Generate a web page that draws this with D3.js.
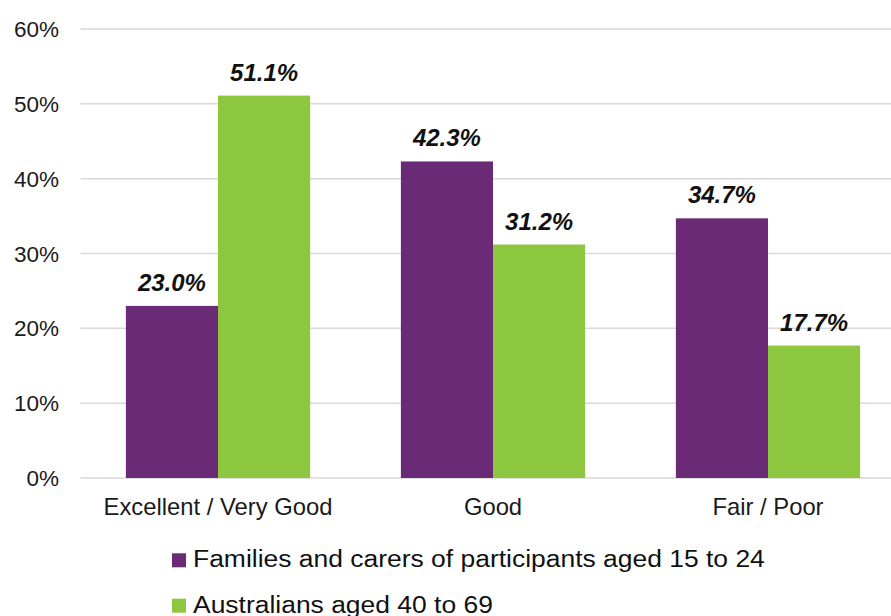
<!DOCTYPE html>
<html><head><meta charset="utf-8">
<script src="https://cdn.jsdelivr.net/npm/d3@7"></script>
<style>body{margin:0;background:#fff}svg{display:block}text{font-family:Arial,"Liberation Sans",sans-serif}</style>
</head><body><svg id="c" width="891" height="616"></svg>
<script>
const categories = ["Excellent / Very Good", "Good", "Fair / Poor"];
const seriesNames = ["Families and carers of participants aged 15 to 24", "Australians aged 40 to 69"];
const families = [23.0, 42.3, 34.7];
const australians = [51.1, 31.2, 17.7];
const yTicks = [0, 10, 20, 30, 40, 50, 60];
const colors = ["#6B2A76", "#8DC63F"];

const svg = d3.select("#c");
const plotL = 80.5, plotR = 905.5, plotT = 29, plotB = 478;
const x = d3.scaleBand().domain(categories).range([plotL, plotR]).paddingInner(0.33).paddingOuter(0.165);
const x1 = d3.scaleBand().domain([0,1]).range([0, x.bandwidth()]);
const y = d3.scaleLinear().domain([0, 60]).range([plotB, plotT]);

svg.append("g").selectAll("line").data(yTicks).join("line")
  .attr("x1", plotL).attr("x2", 891).attr("y1", d => y(d)).attr("y2", d => y(d))
  .attr("stroke", "#d9d9d9").attr("stroke-width", 1.5);

svg.append("g").selectAll("text").data(yTicks).join("text")
  .attr("x", 59).attr("y", d => y(d)).attr("dy", "0.36em").attr("text-anchor", "end")
  .attr("font-size", 22.5).attr("fill", "#1a1a1a").text(d => d + "%");

const series = [families, australians];
series.forEach((vals, si) => {
  const g = svg.append("g");
  g.selectAll("rect").data(vals).join("rect")
    .attr("x", (d, i) => x(categories[i]) + x1(si)).attr("width", x1.bandwidth())
    .attr("y", d => y(d)).attr("height", d => plotB - y(d)).attr("fill", colors[si]);
  g.selectAll("text").data(vals).join("text")
    .attr("x", (d, i) => x(categories[i]) + x1(si) + x1.bandwidth() / 2)
    .attr("y", d => y(d) - 15).attr("text-anchor", "middle")
    .attr("font-size", 24).attr("font-weight", "bold").attr("font-style", "italic").attr("fill", "#111")
    .text(d => d.toFixed(1) + "%");
});

svg.append("g").selectAll("text").data(categories).join("text")
  .attr("x", d => x(d) + x.bandwidth() / 2).attr("y", 515)
  .attr("text-anchor", "middle").attr("font-size", 23.8).attr("fill", "#1a1a1a").text(d => d);

const leg = svg.append("g").selectAll("g").data(seriesNames).join("g")
  .attr("transform", (d, i) => `translate(172,${567.3 + i * 45.4})`);
leg.append("rect").attr("x", 0).attr("y", -14).attr("width", 14).attr("height", 14).attr("fill", (d, i) => colors[i]);
leg.append("text").attr("transform", "translate(21,0) scale(1.08,1)").attr("font-size", 24.5).attr("fill", "#111").text(d => d);
</script></body></html>
